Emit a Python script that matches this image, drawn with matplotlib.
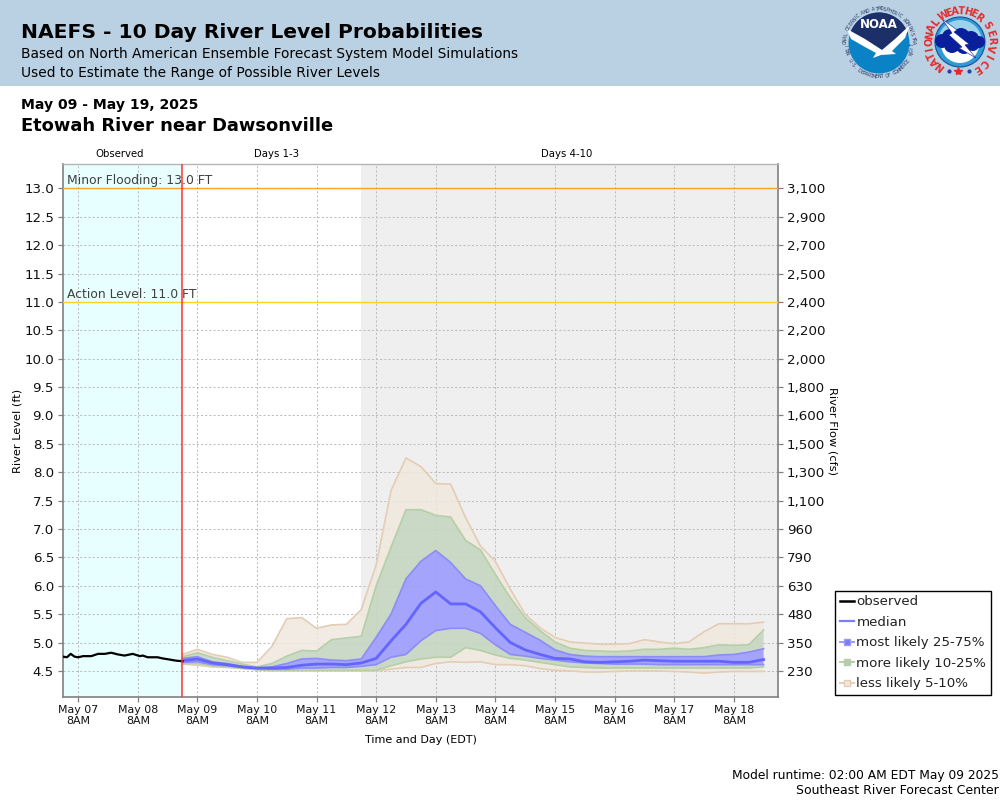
#!/usr/bin/env python3
"""NAEFS 10 day river level probabilities, Etowah River near Dawsonville."""
import numpy as np
import matplotlib
matplotlib.use("Agg")  # headless
import matplotlib.pyplot as plt
from matplotlib.lines import Line2D
from matplotlib.patches import Circle, Polygon, Rectangle, Wedge

# hours since May 07 8AM
obs_hours = [-6, -4.5, -3, -1.4, 0, 2, 5.3, 8, 10.7, 13.3, 16, 18.7, 22, 24.8, 26, 28, 32, 34, 36.8, 39.5, 42]
obs_level = [4.75, 4.74, 4.80, 4.75, 4.74, 4.76, 4.76, 4.80, 4.80, 4.82, 4.79, 4.77, 4.80, 4.76, 4.77,
             4.74, 4.74, 4.72, 4.70, 4.68, 4.67]

fcst_hours = list(range(42, 277, 6))
p95 = [4.79, 4.88, 4.79, 4.74, 4.65, 4.65, 4.93, 5.42, 5.44, 5.25, 5.31, 5.32, 5.58, 6.37, 7.68, 8.25,
       8.10, 7.80, 7.79, 7.20, 6.70, 6.43, 5.94, 5.50, 5.26, 5.09, 5.01, 4.99, 4.97, 4.97, 4.98, 5.05,
       5.01, 4.98, 5.01, 5.19, 5.33, 5.33, 5.33, 5.36]
p90 = [4.75, 4.82, 4.74, 4.68, 4.62, 4.57, 4.63, 4.76, 4.86, 4.85, 5.05, 5.08, 5.11, 6.00, 6.68, 7.34,
       7.34, 7.24, 7.21, 6.80, 6.63, 6.20, 5.79, 5.44, 5.21, 5.01, 4.90, 4.86, 4.85, 4.84, 4.85, 4.88,
       4.88, 4.90, 4.88, 4.91, 4.96, 4.95, 4.96, 5.22]
p75 = [4.72, 4.75, 4.66, 4.63, 4.58, 4.55, 4.57, 4.63, 4.71, 4.72, 4.69, 4.68, 4.71, 5.09, 5.50, 6.12,
       6.43, 6.62, 6.41, 6.12, 6.00, 5.65, 5.32, 5.18, 5.04, 4.87, 4.79, 4.76, 4.75, 4.75, 4.75, 4.75,
       4.75, 4.75, 4.75, 4.75, 4.78, 4.79, 4.83, 4.89]
p50 = [4.68, 4.71, 4.64, 4.61, 4.57, 4.55, 4.55, 4.56, 4.60, 4.62, 4.62, 4.61, 4.64, 4.72, 5.03, 5.32,
       5.69, 5.89, 5.68, 5.68, 5.54, 5.26, 5.00, 4.87, 4.79, 4.72, 4.71, 4.66, 4.65, 4.66, 4.67, 4.69,
       4.68, 4.67, 4.67, 4.67, 4.67, 4.65, 4.65, 4.70]
p25 = [4.65, 4.66, 4.61, 4.59, 4.56, 4.54, 4.53, 4.53, 4.55, 4.55, 4.56, 4.56, 4.58, 4.61, 4.74, 4.79,
       5.03, 5.21, 5.25, 5.25, 5.16, 4.96, 4.79, 4.76, 4.72, 4.69, 4.66, 4.64, 4.63, 4.62, 4.62, 4.62,
       4.61, 4.61, 4.61, 4.61, 4.61, 4.61, 4.61, 4.61]
p10 = [4.63, 4.63, 4.59, 4.57, 4.55, 4.52, 4.51, 4.51, 4.51, 4.51, 4.51, 4.51, 4.51, 4.51, 4.59, 4.66,
       4.71, 4.74, 4.74, 4.91, 4.86, 4.78, 4.72, 4.69, 4.65, 4.61, 4.57, 4.56, 4.55, 4.55, 4.55, 4.55,
       4.55, 4.55, 4.55, 4.55, 4.55, 4.55, 4.55, 4.57]
p5 = [4.62, 4.60, 4.57, 4.56, 4.54, 4.52, 4.50, 4.50, 4.50, 4.50, 4.50, 4.50, 4.50, 4.50, 4.53, 4.56,
      4.56, 4.63, 4.66, 4.65, 4.66, 4.61, 4.61, 4.59, 4.54, 4.51, 4.50, 4.48, 4.48, 4.49, 4.50, 4.50,
      4.50, 4.49, 4.48, 4.46, 4.48, 4.49, 4.49, 4.49]

level_ticks = [4.5, 5.0, 5.5, 6.0, 6.5, 7.0, 7.5, 8.0, 8.5, 9.0, 9.5, 10.0, 10.5, 11.0, 11.5, 12.0, 12.5, 13.0]
flow_labels = ["230", "350", "480", "630", "790", "960", "1,100", "1,300", "1,500", "1,600", "1,800", "2,000",
               "2,200", "2,400", "2,500", "2,700", "2,900", "3,100"]
day_labels = ["May 07", "May 08", "May 09", "May 10", "May 11", "May 12", "May 13", "May 14", "May 15",
              "May 16", "May 17", "May 18"]
minor_flood = 13.0
action_level = 11.0
now_hour = 42
day4_hour = 114

W, H = 1000, 800
HEADER = "#BAD1E3"
TAN_EDGE, GREEN_EDGE, BLUE_EDGE = "#E3CDB5", "#B5CFA8", "#8C8CF5"


def px_axes(fig, left, top, right, bottom, **kw):
    return fig.add_axes([left / W, 1 - bottom / H, (right - left) / W, (bottom - top) / H], **kw)


def ring_text(ov, text, cx, cy, r, start, end, size, color, weight="normal", flip=True):
    # letters along a circle, angles in degrees clockwise from 12 o'clock
    angs = np.linspace(start, end, len(text))
    for ch, a in zip(text, angs):
        t = np.radians(a)
        rot = -a if (not flip or -90 < a < 90) else 180 - a
        ov.text(cx + r * np.sin(t), cy - r * np.cos(t), ch, fontsize=size, color=color, weight=weight,
                rotation=rot, ha="center", va="center", rotation_mode="anchor")


def noaa_logo(ov):
    cx, cy = 879, 43
    ov.add_patch(Circle((cx, cy), 30.5, fc="#0A83C6", ec="none"))
    # navy sky above the gull
    th = np.radians(np.linspace(-162, -18, 40))
    arc = [(cx + 30.5 * np.cos(a), cy + 30.5 * np.sin(a)) for a in th]
    ov.add_patch(Polygon(arc + [(cx + 3, cy + 7)], fc="#1D2F69", ec="none"))
    # gull
    ov.add_patch(Polygon([(cx - 32, cy - 14), (cx - 14, cy - 4), (cx + 3, cy + 7), (cx + 16, cy - 4), (cx + 31, cy - 18),
                          (cx + 26, cy - 5), (cx + 13, cy + 8), (cx + 17, cy + 11), (cx + 2, cy + 12), (cx - 6, cy + 15),
                          (cx - 3, cy + 10), (cx - 14, cy + 4), (cx - 28, cy - 4)], fc="white", ec="none"))
    ov.text(cx, cy - 18, "NOAA", color="white", fontsize=8.5, weight="bold", ha="center", va="center")
    ring_text(ov, "NATIONAL OCEANIC AND ATMOSPHERIC ADMINISTRATION", cx, cy, 34, -108, 108, 3.3, "#26325F")
    ring_text(ov, "U.S. DEPARTMENT OF COMMERCE", cx, cy, 34, -122, -238, 3.3, "#26325F")


def nws_logo(ov):
    cx, cy = 960, 42
    ov.add_patch(Circle((cx, cy), 25, fc="#2E9BD6", ec="#1C4E9A", lw=0.8))
    ov.add_patch(Wedge((cx, cy), 22, 180, 360, fc="#9CD3EC", ec="none"))
    ov.add_patch(Wedge((cx, cy + 2), 19, 0, 180, fc="white", ec="none"))
    # cloud
    for dx, dy, r in [(-18, -1, 7), (-10, -5, 8), (1, -5, 9), (11, -3, 8), (19, 0, 6), (-8, 3, 8), (4, 4, 8), (13, 3, 6),
                      (-3, 0, 9)]:
        ov.add_patch(Circle((cx + dx, cy + dy), r, fc="#0A1F9C", ec="none"))
    ov.add_patch(Polygon([(cx - 18, cy - 23), (cx - 3, cy - 12), (cx - 6, cy - 10), (cx + 9, cy + 2), (cx + 5, cy + 3),
                          (cx + 16, cy + 16), (cx - 1, cy + 6), (cx + 2, cy + 5), (cx - 11, cy - 7), (cx - 8, cy - 9)],
                         fc="white", ec="#0A1F9C", lw=0.4))
    ring_text(ov, "NATIONAL", cx, cy, 31, -141, -52, 7, "#E32B2B", "bold", flip=False)
    ring_text(ov, "WEATHER", cx, cy, 31, -31, 38, 7, "#E32B2B", "bold", flip=False)
    ring_text(ov, "SERVICE", cx, cy, 31, 58, 147, 7, "#E32B2B", "bold", flip=False)
    ov.plot([cx - 11, cx + 9], [cy + 29, cy + 29], ls="none", marker="o", ms=2, color="#2A3FA8")
    ov.plot([cx - 2], [cy + 29], ls="none", marker="*", ms=6, color="#E32B2B")


def main():
    plt.rcParams["font.family"] = "DejaVu Sans"
    fig = plt.figure(figsize=(W / 100, H / 100), dpi=100, facecolor="white")

    # overlay in pixel coordinates for the banner and page text
    ov = px_axes(fig, 0, 0, W, H, zorder=0)
    ov.set_xlim(0, W)
    ov.set_ylim(H, 0)
    ov.axis("off")
    ov.add_patch(Rectangle((0, 0), W, 86, fc=HEADER, ec="none"))
    ov.text(21, 33, "NAEFS - 10 Day River Level Probabilities", fontsize=14.55, weight="bold", va="center", color="black")
    ov.text(21, 54, "Based on North American Ensemble Forecast System Model Simulations", fontsize=9.95, va="center")
    ov.text(21, 73, "Used to Estimate the Range of Possible River Levels", fontsize=9.95, va="center")
    noaa_logo(ov)
    nws_logo(ov)
    ov.text(21, 105, "May 09 - May 19, 2025", fontsize=10.05, weight="bold", va="center")
    ov.text(21, 126, "Etowah River near Dawsonville", fontsize=12.9, weight="bold", va="center")
    ov.text(120, 154, "Observed", fontsize=7.3, ha="center", va="center")
    ov.text(276.5, 154, "Days 1-3", fontsize=7.3, ha="center", va="center")
    ov.text(567, 154, "Days 4-10", fontsize=7.3, ha="center", va="center")
    ov.text(421, 740, "Time and Day (EDT)", fontsize=8, ha="center", va="center")
    ov.text(18, 431, "River Level (ft)", fontsize=8.2, rotation=90, ha="center", va="center")
    ov.text(832, 431, "River Flow (cfs)", fontsize=8.2, rotation=-90, ha="center", va="center")
    ov.text(999, 775, "Model runtime: 02:00 AM EDT May 09 2025", fontsize=8.8, ha="right", va="center")
    ov.text(999, 791, "Southeast River Forecast Center", fontsize=9.0, ha="right", va="center")

    ax = px_axes(fig, 63, 164, 778, 697, zorder=2)
    ax.set_xlim(-6.1, 281.8)
    ax.set_ylim(4.04, 13.43)

    ax.axvspan(ax.get_xlim()[0], now_hour, color="#E8FFFF", lw=0, zorder=0)
    ax.axvspan(day4_hour, ax.get_xlim()[1], color="#EFEFEF", lw=0, zorder=0)

    day_ticks = [24 * i for i in range(len(day_labels))]
    ax.set_xticks(day_ticks)
    ax.set_xticklabels([d + "\n8AM" for d in day_labels], fontsize=7.9, linespacing=1.15, color="#111111")
    ax.set_yticks(level_ticks)
    ax.set_yticklabels([f"{v:.1f}" for v in level_ticks], fontsize=9.6, color="#111111")
    ax.grid(True, color="#BEBEBE", ls=(0, (2.0, 2.0)), lw=0.75, zorder=1)
    ax.set_axisbelow(True)
    ax.tick_params(length=3.5, width=0.9, color="#808080", pad=3)
    ax.tick_params(axis="x", pad=2)

    ax.axhline(minor_flood, color="#FFA033", lw=1.0, zorder=3)
    ax.axhline(action_level, color="#FFD21E", lw=1.0, zorder=3)
    ax.text(-4.3, minor_flood + 0.02, "Minor Flooding: 13.0 FT", fontsize=8.95, color="#404040", va="bottom", zorder=6)
    ax.text(-4.3, action_level + 0.02, "Action Level: 11.0 FT", fontsize=8.9, color="#404040", va="bottom", zorder=6)

    hrs = np.array(fcst_hours)
    bands = [
        (p90, p95, "#F0E8DE", 0.85),
        (p5, p10, "#F0E8DE", 0.85),
        (p75, p90, "#C6D6C2", 0.9),
        (p10, p25, "#C6D6C2", 0.9),
        (p25, p75, "#9E9EFF", 0.92),
    ]
    for lo, hi, fc, a in bands:
        ax.fill_between(hrs, lo, hi, facecolor=fc, alpha=a, lw=0, zorder=2)
    for vals, ec, z in [(p95, TAN_EDGE, 3), (p5, TAN_EDGE, 3), (p90, GREEN_EDGE, 3.1), (p10, GREEN_EDGE, 3.1),
                        (p75, BLUE_EDGE, 3.2), (p25, BLUE_EDGE, 3.2)]:
        ax.plot(hrs, vals, color=ec, lw=1.2, zorder=z)
    ax.plot(hrs, p50, color="#6464FF", lw=2.0, zorder=4)
    ax.plot(obs_hours, obs_level, color="black", lw=1.6, zorder=5)
    ax.axvline(now_hour, color="#FF3333", lw=1.1, zorder=6)

    for side in ("left", "bottom", "right"):
        ax.spines[side].set_color("#808080")
        ax.spines[side].set_linewidth(1.2)
    ax.spines["top"].set_color("#B4B4B4")
    ax.spines["top"].set_linewidth(1.0)

    flow = ax.twinx()
    flow.set_ylim(ax.get_ylim())
    flow.set_yticks(level_ticks)
    flow.set_yticklabels(flow_labels, fontsize=9.6, color="#111111")
    flow.tick_params(length=3.5, width=0.9, color="#808080", pad=3)
    for spine in flow.spines.values():
        spine.set_visible(False)

    handles = [
        Line2D([], [], color="black", lw=1.8),
        Line2D([], [], color="#7C7CFF", lw=1.6),
        Line2D([], [], color="#9C9CF8", lw=1.4, marker="s", ms=5, mfc="#7C7CF8", mec="#9C9CF8"),
        Line2D([], [], color="#B5CFA8", lw=1.4, marker="s", ms=5, mfc="#B4CDB0", mec="#B5CFA8"),
        Line2D([], [], color="#E3CDB5", lw=1.4, marker="s", ms=5, mfc="#F1E8DC", mec="#E3CDB5"),
    ]
    labels = ["observed", "median", "most likely 25-75%", "more likely 10-25%", "less likely 5-10%"]
    leg = fig.legend(handles, labels, loc="lower left", bbox_to_anchor=(835 / W, 1 - 695 / H), fontsize=9.6,
                     frameon=True, fancybox=False, framealpha=1, edgecolor="black", borderpad=0.36,
                     labelspacing=0.56, handlelength=1.1, handletextpad=0.15, borderaxespad=0)
    leg.get_frame().set_linewidth(1.0)
    leg.set_zorder(10)
    for txt in leg.get_texts():
        txt.set_color("#222222")

    fig.savefig("out.png", dpi=100)
    plt.close(fig)
    return 0


if __name__ == "__main__":
    main()
